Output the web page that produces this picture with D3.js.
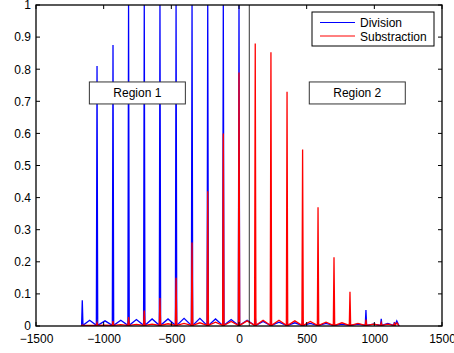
<!DOCTYPE html>
<html>
<head>
<meta charset="utf-8">
<script src="https://cdn.jsdelivr.net/npm/d3@7"></script>
<style>
  body { margin: 0; background: #fff; }
  text { font-family: 'Liberation Sans', Arial, sans-serif; font-size: 12px; fill: #000; }
</style>
</head>
<body>
<div id="chart-area"></div>
<script>
// values
const xTicks = [-1500, -1000, -500, 0, 500, 1000, 1500]
const yTicks = [0, 0.1, 0.2, 0.3, 0.4, 0.5, 0.6, 0.7, 0.8, 0.9, 1]
const seriesNames = ['Division', 'Substraction']
const regionNames = ['Region 1', 'Region 2']

const peakX = [-1158, -1049, -931, -816, -700, -584, -465, -347, -231, -116, 0,
  120, 236, 355, 470, 584, 702, 820, 938, 1051, 1148]
const divisionPeaks = [0.08, 0.81, 0.875, 1, 1, 1, 1, 1, 1, 1, 1,
  0.03, 0.025, 0.02, 0.02, 0.015, 0.015, 0.015, 0.05, 0.022, 0.012]
const substractionPeaks = [0.003, 0.01, 0.015, 0.028, 0.048, 0.087, 0.15, 0.26, 0.42, 0.6, 0.79,
  0.88, 0.853, 0.73, 0.55, 0.37, 0.214, 0.107, 0.02, 0.01, 0.008]
// small lobes after each peak
const divisionLobes = [0.018, 0.016, 0.018, 0.02, 0.022, 0.022, 0.024, 0.024, 0.022, 0.02, 0.018,
  0.014, 0.012, 0.01, 0.008, 0.008, 0.006, 0.006, 0.006, 0.008, 0.016]
const substractionLobes = [0.002, 0.003, 0.004, 0.005, 0.006, 0.007, 0.008, 0.01, 0.012, 0.014, 0.016,
  0.018, 0.018, 0.016, 0.014, 0.012, 0.01, 0.008, 0.006, 0.006, 0.01]
const dividerX = 76

const width = 454
const height = 353
const margin = { top: 5, right: 12, bottom: 27, left: 36 }
const plotW = width - margin.left - margin.right
const plotH = height - margin.top - margin.bottom

const svg = d3.select('#chart-area')
  .append('svg')
    .attr('width', width)
    .attr('height', height)

const g = svg.append('g')
  .attr('transform', `translate(${margin.left}, ${margin.top})`)

const scaleX = d3.scaleLinear().domain([-1500, 1500]).range([0, plotW])
const scaleY = d3.scaleLinear().domain([0, 1]).range([plotH, 0])

g.append('clipPath').attr('id', 'plot-clip')
  .append('rect').attr('width', plotW).attr('height', plotH)

function buildSeries(peaks, lobes) {
  const pts = [[peakX[0] - 6, 0]]
  peakX.forEach((x, i) => {
    pts.push([x - 5, 0.002], [x, peaks[i]], [x + 5, 0.002])
    if (i < peakX.length - 1) {
      pts.push([(x + peakX[i + 1]) / 2, lobes[i]])
    } else {
      pts.push([x + 18, lobes[i]], [x + 35, 0])
    }
  })
  return pts
}

const line = d3.line()
  .x(d => scaleX(d[0]))
  .y(d => scaleY(d[1]))

const colors = ['#0000ff', '#ff0000']
const series = [buildSeries(divisionPeaks, divisionLobes), buildSeries(substractionPeaks, substractionLobes)]

const plot = g.append('g').attr('clip-path', 'url(#plot-clip)')
series.forEach((pts, i) => {
  plot.append('path')
    .datum(pts)
    .attr('d', line)
    .attr('fill', 'none')
    .attr('stroke', colors[i])
    .attr('stroke-width', 1.3)
    .attr('stroke-linejoin', 'miter')
})

plot.append('line')
  .attr('x1', scaleX(dividerX)).attr('x2', scaleX(dividerX))
  .attr('y1', 0).attr('y2', plotH)
  .attr('stroke', '#000')
  .attr('stroke-width', 0.8)

// axes (MATLAB style: ticks inside, on all four sides)
const axisBottom = d3.axisBottom(scaleX).tickValues(xTicks).tickSize(0).tickPadding(8)
  .tickFormat(d3.format('d'))
g.append('g')
  .attr('transform', `translate(0, ${plotH})`)
  .call(axisBottom)
  .call(s => s.select('.domain').remove())
  .selectAll('text').style('font-size', '12px').attr('font-family', null)

const axisLeft = d3.axisLeft(scaleY).tickValues(yTicks).tickSize(0).tickPadding(5)
  .tickFormat(d => d3.format('')(+d.toFixed(1)))
g.append('g')
  .call(axisLeft)
  .call(s => s.select('.domain').remove())
  .selectAll('text').style('font-size', '12px').attr('font-family', null)

const ticks = g.append('g').attr('stroke', '#000').attr('stroke-width', 1)
xTicks.forEach(t => {
  ticks.append('line').attr('x1', scaleX(t)).attr('x2', scaleX(t)).attr('y1', plotH).attr('y2', plotH - 4)
  ticks.append('line').attr('x1', scaleX(t)).attr('x2', scaleX(t)).attr('y1', 0).attr('y2', 4)
})
yTicks.forEach(t => {
  ticks.append('line').attr('x1', 0).attr('x2', 4).attr('y1', scaleY(t)).attr('y2', scaleY(t))
  ticks.append('line').attr('x1', plotW).attr('x2', plotW - 4).attr('y1', scaleY(t)).attr('y2', scaleY(t))
})

g.append('rect')
  .attr('width', plotW).attr('height', plotH)
  .attr('fill', 'none')
  .attr('stroke', '#000')
  .attr('stroke-width', 1.3)

// region labels
const regionAt = [[-751, 0.726], [874, 0.726]]
regionNames.forEach((name, i) => {
  const cx = scaleX(regionAt[i][0])
  const cy = scaleY(regionAt[i][1])
  g.append('rect')
    .attr('x', cx - 48).attr('y', cy - 11)
    .attr('width', 96).attr('height', 22)
    .attr('fill', '#fff')
    .attr('stroke', '#333')
    .attr('stroke-width', 1)
  g.append('text')
    .attr('x', cx).attr('y', cy + 4.5)
    .attr('text-anchor', 'middle')
    .text(name)
})

// legend
const legend = svg.append('g').attr('transform', 'translate(312, 12)')
legend.append('rect')
  .attr('width', 122).attr('height', 34)
  .attr('fill', '#fff')
  .attr('stroke', '#000')
  .attr('stroke-width', 1)
seriesNames.forEach((name, i) => {
  const y = 10.5 + i * 13.5
  legend.append('line')
    .attr('x1', 8).attr('x2', 43)
    .attr('y1', y).attr('y2', y)
    .attr('stroke', colors[i])
    .attr('stroke-width', 1)
  legend.append('text')
    .attr('x', 48).attr('y', y + 4.5)
    .text(name)
})
</script>
</body>
</html>
